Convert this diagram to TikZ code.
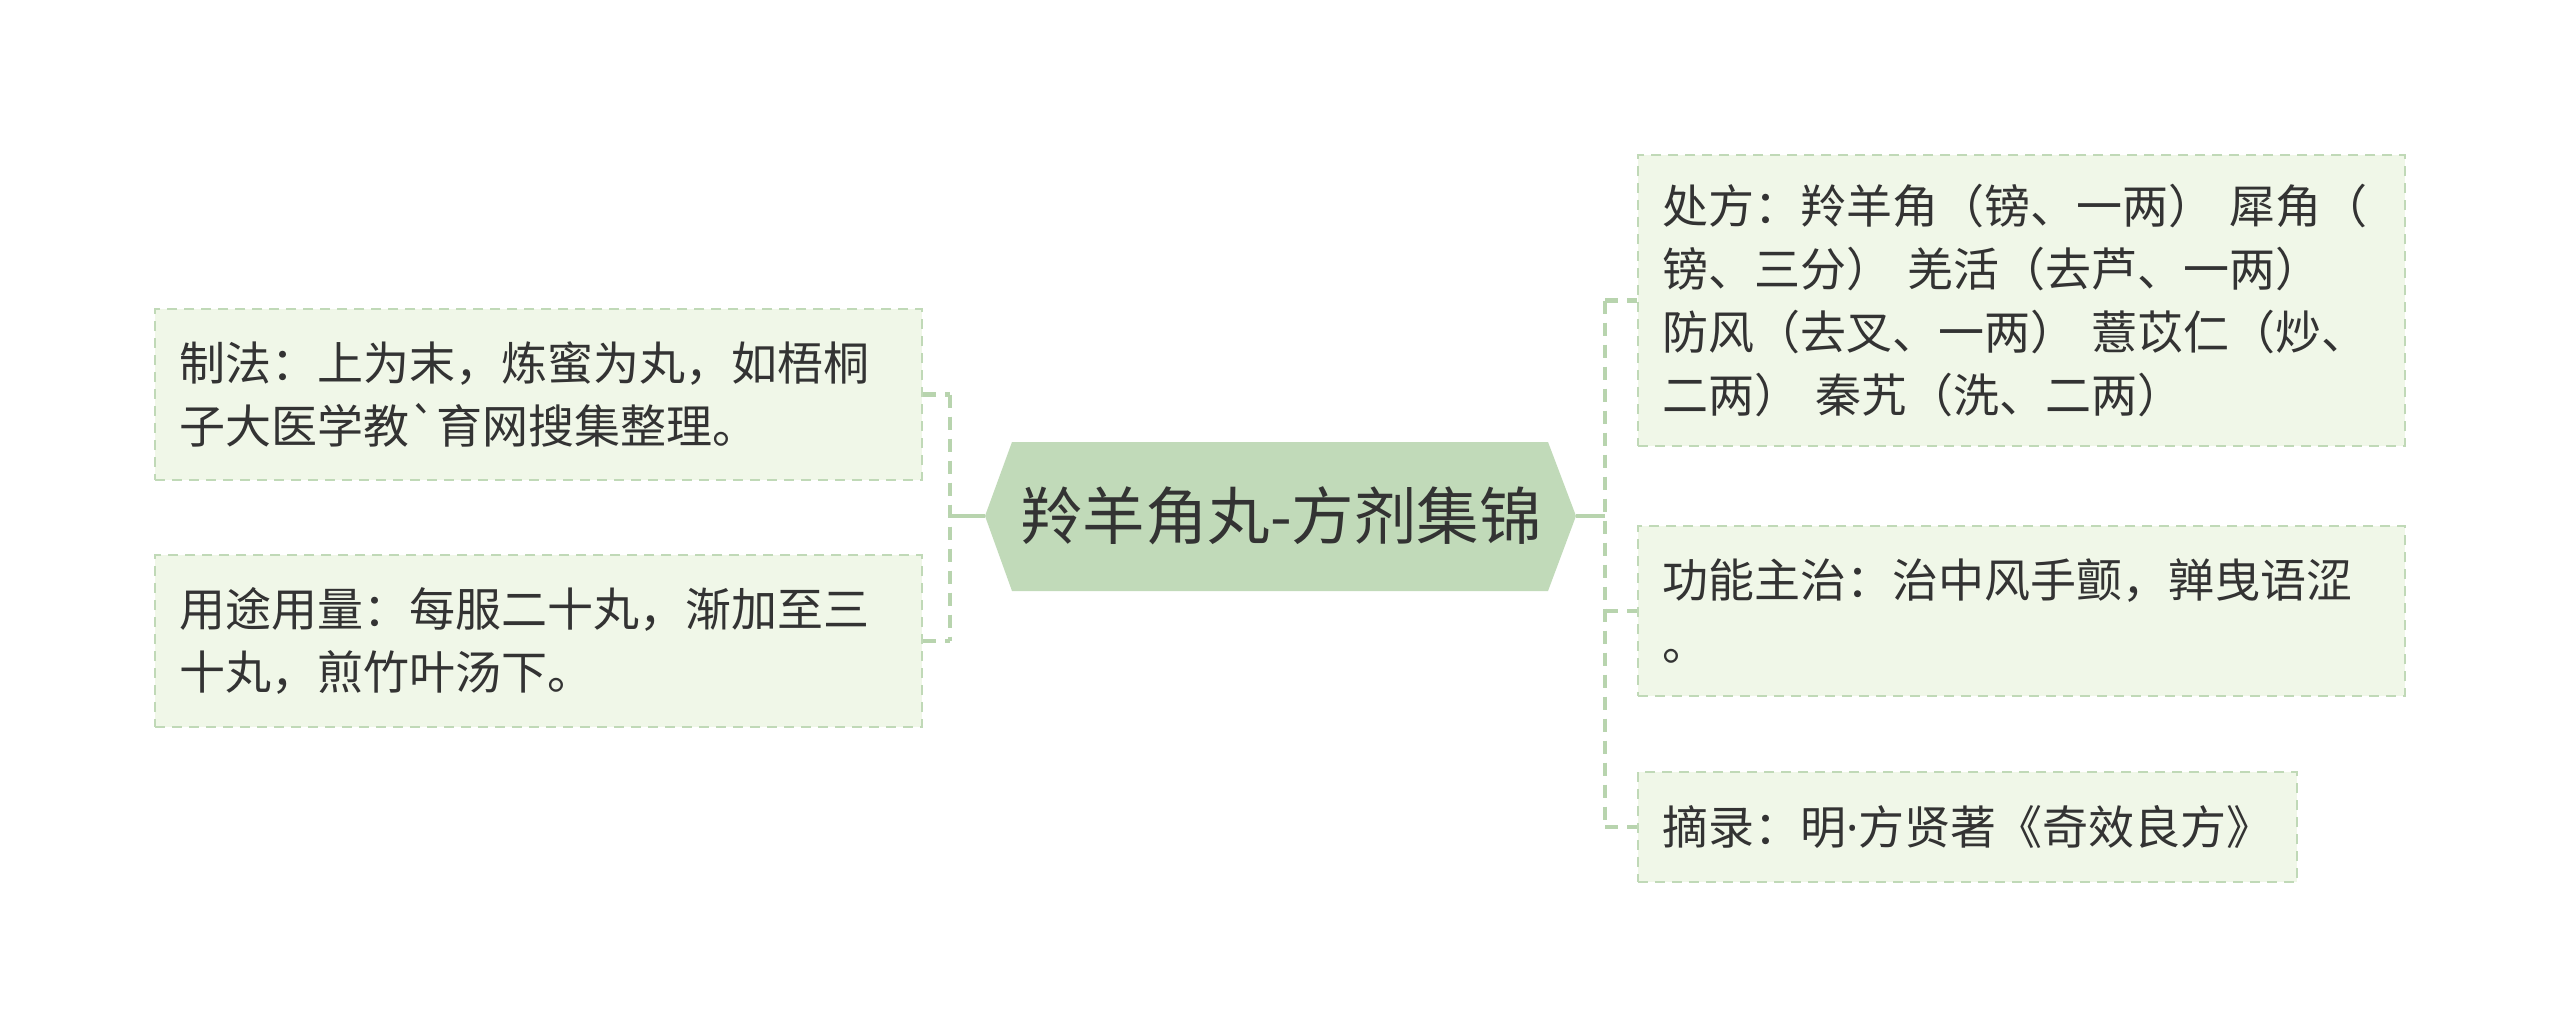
\documentclass[tikz,border=0pt]{standalone}
\usepackage{fontspec}
\newfontfamily\cjk{Noto Sans CJK SC}
\newfontfamily\latinf{Noto Sans}
\definecolor{boxc}{HTML}{F0F7E8}
\definecolor{bordc}{HTML}{C0D9B7}
\definecolor{rootc}{HTML}{C1DAB9}
\definecolor{linec}{HTML}{B8D4AE}
\definecolor{txtc}{HTML}{333333}
\begin{document}
\begin{tikzpicture}[x=1pt,y=-1pt,
  leaf/.style={draw=bordc, fill=boxc, line width=2.5pt, dash pattern=on 10pt off 7pt,
    text=txtc, font=\cjk\fontsize{46}{63}\selectfont, align=left,
    inner xsep=24pt, inner ysep=0pt, anchor=center},
  conn/.style={draw=linec, line width=4.5pt},
  dconn/.style={conn, dash pattern=on 13pt off 9pt}]
\useasboundingbox (0,0) rectangle (2560,1035);
\fill[white] (0,0) rectangle (2560,1035);
% root hexagon
\coordinate (hexL) at (985,516);
\coordinate (hexR) at (1576,516);
\fill[rootc] (hexL) -- (1012,442) -- (1548,442) -- (hexR) -- (1548,591) -- (1012,591) -- cycle;
\node[text=txtc, font=\cjk\fontsize{62.5}{70}\selectfont, inner sep=0pt] (root) at (1281,516) {羚羊角丸-方剂集锦};
% leaves
\node[leaf, text width=719pt, minimum height=171pt] (lb1) at (538.5,394.5)
  {制法：上为末，炼蜜为丸，如梧桐\\子大医学教`育网搜集整理。};
\node[leaf, text width=719pt, minimum height=172pt] (lb2) at (538.5,641)
  {用途用量：每服二十丸，渐加至三\\十丸，煎竹叶汤下。};
\node[leaf, text width=719pt, minimum height=291pt] (rb1) at (2021.5,300.5)
  {处方：羚羊角（镑、一两） 犀角（\\镑、三分） 羌活（去芦、一两）\\防风（去叉、一两） 薏苡仁（炒、\\二两） 秦艽（洗、二两）};
\node[leaf, text width=719pt, minimum height=170pt] (rb2) at (2021.5,611)
  {功能主治：治中风手颤，亸曳语涩\\。};
\node[leaf, text width=611pt, minimum height=110pt] (rb3) at (1967.5,827)
  {摘录：明{\latinf ·}方贤著《奇效良方》};
% connectors
\coordinate (lj) at (950,516);
\coordinate (rj) at (1605,516);
\draw[conn] (hexL) -- (lj);
\draw[conn] (hexR) -- (rj);
\draw[dconn] (lb1.east -| lj) -- (lb2.east -| lj);
\draw[dconn] (lb1.east) -- (lb1.east -| lj);
\draw[dconn] (lb2.east) -- (lb2.east -| lj);
\draw[dconn] (rb1.west -| rj) -- (rb3.west -| rj);
\draw[dconn] (rj |- rb1.west) -- (rb1.west);
\draw[dconn] (rj |- rb2.west) -- (rb2.west);
\draw[dconn] (rj |- rb3.west) -- (rb3.west);
\end{tikzpicture}
\end{document}
